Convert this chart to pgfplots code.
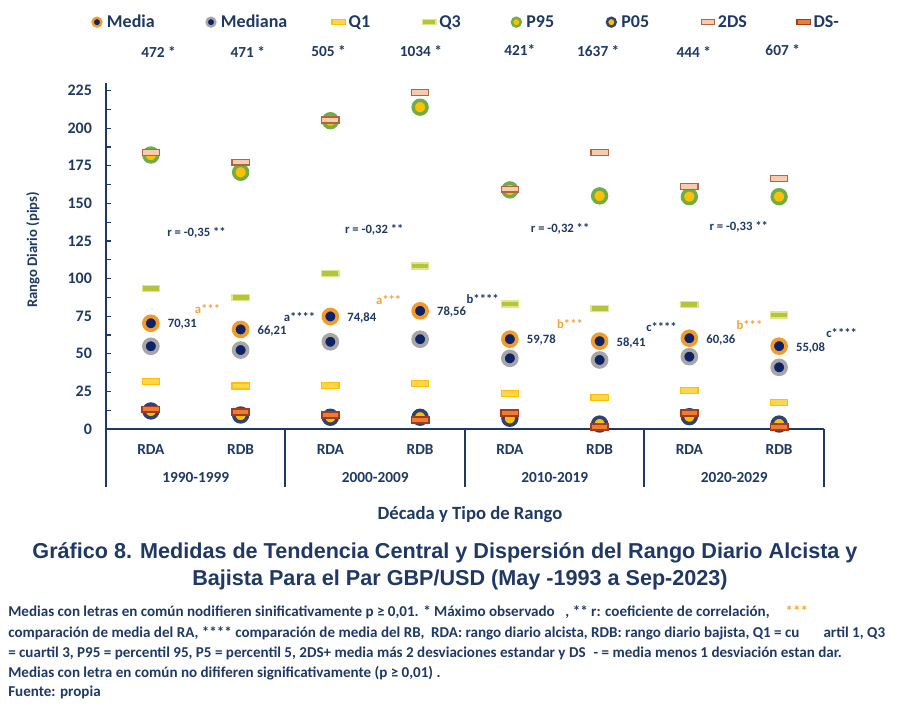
\documentclass[border=0pt]{standalone}
\usepackage{pgfplots}
\pgfplotsset{compat=1.18}
\usepackage{fontspec}
\setmainfont{Carlito}
\newfontfamily\titlefont{Liberation Sans}
\definecolor{navy}{HTML}{1F3864}
\definecolor{mcenter}{HTML}{0E2266}
\definecolor{morange}{HTML}{F09B2C}
\definecolor{mgray}{HTML}{A6A6A6}
\definecolor{mgreen}{HTML}{70AD47}
\definecolor{myellow}{HTML}{FFC000}
\definecolor{p05ring}{HTML}{2E4372}
\definecolor{qonefill}{HTML}{FFD54F}
\definecolor{qoneline}{HTML}{FFC000}
\definecolor{qthreefill}{HTML}{B4C43C}
\definecolor{qthreeline}{HTML}{E0E68A}
\definecolor{dsfill}{HTML}{F8CBAD}
\definecolor{dsline}{HTML}{B0653F}
\definecolor{dsmfill}{HTML}{ED7D31}
\definecolor{dsmline}{HTML}{A33B1C}
\definecolor{letorange}{HTML}{F2A33A}

\pgfdeclareplotmark{qbar}{%
  \pgfsetcornersarced{\pgfpoint{1.2pt}{1.2pt}}%
  \pgfpathrectangle{\pgfpoint{-6.5pt}{-2.2pt}}{\pgfpoint{13pt}{4.4pt}}%
  \pgfusepathqfillstroke}
\pgfdeclareplotmark{qbarsmall}{%
  \pgfsetcornersarced{\pgfpoint{1pt}{1pt}}%
  \pgfpathrectangle{\pgfpoint{-5pt}{-1.8pt}}{\pgfpoint{10pt}{3.6pt}}%
  \pgfusepathqfillstroke}

\newcommand{\lgpad}{\path[draw=none,fill=none] (-4.5pt,0pt) (7.5pt,0pt);}

\begin{document}
\begin{tikzpicture}
\begin{axis}[
  at={(79.5pt,210pt)}, anchor=south west,
  scale only axis, width=538.5pt, height=259.4pt,
  xmin=-0.5, xmax=7.5, ymin=0, ymax=230,
  clip=false,
  axis lines*=left,
  axis line style={navy, line width=1.5pt},
  xtick={0,...,7},
  xticklabels={RDA,RDB,RDA,RDB,RDA,RDB,RDA,RDB},
  major x tick style={draw=none},
  xticklabel style={font=\bfseries\fontsize{11.5}{13}\selectfont, text=navy, yshift=-8pt},
  ytick={0,25,...,225},
  minor y tick num=1,
  tick align=inside,
  major tick length=4pt, minor tick length=4pt,
  y tick style={navy, line width=1pt},
  /pgf/number format/assume math mode=true,
  yticklabel style={font=\bfseries\fontsize{12}{14}\selectfont, text=navy, xshift=-7pt},
  legend style={at={(-0.0209,1.1763)}, anchor=west, legend columns=-1, draw=none, fill=none,
    inner sep=0pt, outer sep=0pt, column sep=0pt,
    nodes={inner xsep=0pt, inner ysep=1pt, font=\bfseries\fontsize{13.5}{15}\selectfont, text=navy}},
  legend cell align=left,
]
% Media
\addplot[only marks, mark=*, mark size=5.2pt, mark options={draw=morange, fill=mcenter, line width=2.8pt},
  legend image code/.code={\draw[only marks, mark=*, mark size=3.3pt, mark options={draw=morange, fill=mcenter, line width=1.8pt}] plot coordinates {(0pt,0pt)};\lgpad},
  nodes near coords, point meta=explicit symbolic, nodes near coords align=horizontal,
  every node near coord/.append style={anchor=west, xshift=8pt, yshift=-1pt, font=\bfseries\fontsize{9.5}{11}\selectfont, text=navy}]
coordinates {(0,70.31)[70,31] (1,66.21)[66,21] (2,74.84)[74,84] (3,78.56)[78,56] (4,59.78)[59,78] (5,58.41)[58,41] (6,60.36)[60,36] (7,55.08)[55,08]};
\addlegendentry{\makebox[73.5pt][l]{Media}}
% Mediana
\addplot[only marks, mark=*, mark size=5.2pt, mark options={draw=mgray, fill=mcenter, line width=2.8pt},
  legend image code/.code={\draw[only marks, mark=*, mark size=3.3pt, mark options={draw=mgray, fill=mcenter, line width=1.8pt}] plot coordinates {(0pt,0pt)};\lgpad}]
coordinates {(0,55) (1,52.5) (2,58) (3,59.7) (4,47) (5,45.9) (6,48.1) (7,41)};
\addlegendentry{\makebox[83.25pt][l]{Mediana}}
% Q1
\addplot[only marks, mark=qbar, mark options={draw=qoneline, fill=qonefill, line width=1pt},
  legend image code/.code={\draw[only marks, mark=qbarsmall, mark options={draw=qoneline, fill=qonefill, line width=0.9pt}] plot coordinates {(0pt,0pt)};\lgpad}]
coordinates {(0,31.7) (1,28.6) (2,28.8) (3,30.4) (4,23.7) (5,20.8) (6,25.7) (7,17.5)};
\addlegendentry{\makebox[55.5pt][l]{Q1}}
% Q3
\addplot[only marks, mark=qbar, mark options={draw=qthreeline, fill=qthreefill, line width=1pt},
  legend image code/.code={\draw[only marks, mark=qbarsmall, mark options={draw=qthreeline, fill=qthreefill, line width=0.9pt}] plot coordinates {(0pt,0pt)};\lgpad}]
coordinates {(0,93.6) (1,87.6) (2,103.5) (3,108.4) (4,83.1) (5,80.3) (6,82.7) (7,75.8)};
\addlegendentry{\makebox[53.25pt][l]{Q3}}
% P95
\addplot[only marks, mark=*, mark size=5.2pt, mark options={draw=mgreen, fill=myellow, line width=2.6pt},
  legend image code/.code={\draw[only marks, mark=*, mark size=3.3pt, mark options={draw=mgreen, fill=myellow, line width=1.8pt}] plot coordinates {(0pt,0pt)};\lgpad}]
coordinates {(0,182.2) (1,170.7) (2,205) (3,214) (4,159) (5,155) (6,154.5) (7,154.5)};
\addlegendentry{\makebox[59.25pt][l]{P95}}
% P05
\addplot[only marks, mark=*, mark size=5.2pt, mark options={draw=p05ring, fill=myellow, line width=2.6pt},
  legend image code/.code={\draw[only marks, mark=*, mark size=3.3pt, mark options={draw=p05ring, fill=myellow, line width=1.8pt}] plot coordinates {(0pt,0pt)};\lgpad}]
coordinates {(0,12) (1,9.3) (2,7.8) (3,7.8) (4,7.1) (5,3.3) (6,8.2) (7,3.3)};
\addlegendentry{\makebox[60pt][l]{P05}}
% 2DS
\addplot[only marks, mark=qbar, mark options={draw=dsline, fill=dsfill, line width=1pt},
  legend image code/.code={\draw[only marks, mark=qbarsmall, mark options={draw=dsline, fill=dsfill, line width=0.9pt}] plot coordinates {(0pt,0pt)};\lgpad}]
coordinates {(0,183.8) (1,177.4) (2,205.5) (3,223.7) (4,159.5) (5,183.8) (6,161.2) (7,166.5)};
\addlegendentry{\makebox[59.25pt][l]{2DS}}
% DS-
\addplot[only marks, mark=qbar, mark options={draw=dsmline, fill=dsmfill, line width=1.4pt},
  legend image code/.code={\draw[only marks, mark=qbarsmall, mark options={draw=dsmline, fill=dsmfill, line width=1.1pt}] plot coordinates {(0pt,0pt)};\lgpad}]
coordinates {(0,13) (1,11.5) (2,9.5) (3,6) (4,10.8) (5,1.5) (6,10.8) (7,1.5)};
\addlegendentry{DS-}

% category separators
\draw[navy, line width=1.5pt] (axis cs:-0.5,0) -- ++(0pt,-43.5pt);
\draw[navy, line width=1.5pt] (axis cs:1.5,0) -- ++(0pt,-43.5pt);
\draw[navy, line width=1.5pt] (axis cs:3.5,0) -- ++(0pt,-43.5pt);
\draw[navy, line width=1.5pt] (axis cs:5.5,0) -- ++(0pt,-43.5pt);
\draw[navy, line width=1.5pt] (axis cs:7.5,0) -- ++(0pt,-43.5pt);
\foreach \xx/\lab in {0.5/1990-1999, 2.5/2000-2009, 4.5/2010-2019, 6.5/2020-2029}{
  \edef\tmp{\noexpand\node[font=\noexpand\bfseries\noexpand\fontsize{11.5}{13}\noexpand\selectfont, text=navy] at (axis cs:\xx,0) [yshift=-36.75pt] {\lab};}\tmp
}
% counts
\begin{scope}[every node/.style={font=\bfseries\fontsize{11.5}{13}\selectfont, text=navy}]
\node at (axis cs:0.085,251) {472 *};
\node at (axis cs:1.08,251) {471 *};
\node at (axis cs:1.98,251) {505 *};
\node at (axis cs:3.01,251) {1034 *};
\node at (axis cs:4.11,252) {421*};
\node at (axis cs:4.985,251) {1637 *};
\node at (axis cs:6.05,251) {444 *};
\node at (axis cs:7.04,252) {607 *};
\end{scope}
% r labels
\begin{scope}[every node/.style={font=\bfseries\fontsize{9.5}{11}\selectfont, text=navy}]
\node at (axis cs:0.508,130.4) {r = -0,35 **};
\node at (axis cs:2.49,132.4) {r = -0,32 **};
\node at (axis cs:4.56,133) {r = -0,32 **};
\node at (axis cs:6.55,134.4) {r = -0,33 **};
\end{scope}
% letters
\begin{scope}[every node/.style={font=\bfseries\fontsize{9.5}{11}\selectfont}]
\node[text=letorange] at (axis cs:0.631,79.8) {a***};
\node[text=navy] at (axis cs:1.656,74.7) {a****};
\node[text=letorange] at (axis cs:2.65,85.8) {a***};
\node[text=navy] at (axis cs:3.697,86.3) {b****};
\node[text=letorange] at (axis cs:4.67,69.6) {b***};
\node[text=navy] at (axis cs:5.69,67.6) {c****};
\node[text=letorange] at (axis cs:6.67,69.2) {b***};
\node[text=navy] at (axis cs:7.697,64) {c****};
\end{scope}
\end{axis}

% axis titles
\node[rotate=90, font=\bfseries\fontsize{11}{13}\selectfont, text=navy] at (24.75pt,344.25pt) {Rango Diario (pips)};
\node[font=\bfseries\fontsize{14}{16}\selectfont, text=navy] at (352.5pt,145.5pt) {Década y Tipo de Rango};
% chart title
\node[font=\titlefont\bfseries\fontsize{16.2}{18}\selectfont, text=navy] at (333.75pt,117pt) {Gráfico 8. Medidas de Tendencia Central y Dispersión del Rango Diario Alcista y};
\node[font=\titlefont\bfseries\fontsize{16.2}{18}\selectfont, text=navy] at (345pt,96.75pt) {Bajista Para el Par GBP/USD (May -1993 a Sep-2023)};
% footnotes
\begin{scope}[every node/.style={anchor=west, inner xsep=0pt, font=\bfseries\fontsize{11.3}{13}\selectfont, text=navy}]
\node at (6pt,72.75pt) {Medias con letras en común nodifieren sinificativamente p ≥ 0,01. * Máximo observado\hspace{8pt}, ** r: coeficiente de correlación,\hspace{12pt}\textcolor{letorange}{***}};
\node at (6pt,57pt) {comparación de media del RA, **** comparación de media del RB,\ \ RDA: rango diario alcista, RDB: rango diario bajista, Q1 = cu\hspace{18pt}artil 1, Q3};
\node at (6pt,42pt) {= cuartil 3, P95 = percentil 95, P5 = percentil 5, 2DS+ media más 2 desviaciones estandar y DS\hspace{6pt}- = media menos 1 desviación estan dar.};
\node at (6pt,27pt) {Medias con letra en común no dififeren significativamente (p ≥ 0,01) .};
\node at (6pt,12.75pt) {Fuente: propia};
\end{scope}
\pgfresetboundingbox
\path[use as bounding box] (0pt,0pt) rectangle (675pt,531.75pt);
\end{tikzpicture}
\end{document}
